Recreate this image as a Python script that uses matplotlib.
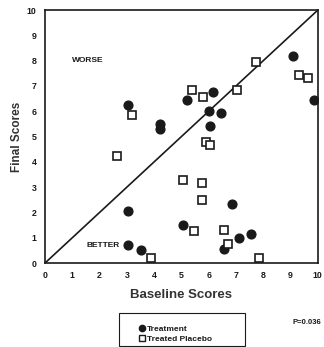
import matplotlib.pyplot as plt
from matplotlib.lines import Line2D
from matplotlib.patches import Rectangle

plt.rcParams['font.family'] = ['Liberation Sans', 'DejaVu Sans']

# treatment group (filled circles)
treat_base = [3.05, 4.2, 4.2, 5.2, 6.15, 6.0, 6.45, 6.05, 9.1, 9.85,
              3.05, 5.05, 3.05, 3.5, 6.85, 7.1, 7.55, 6.55]
treat_final = [6.25, 5.5, 5.3, 6.45, 6.75, 6.0, 5.95, 5.4, 8.2, 6.45,
               2.05, 1.5, 0.7, 0.5, 2.35, 1.0, 1.15, 0.55]

# treated placebo group (open squares)
plac_base = [3.2, 5.4, 5.8, 7.05, 7.75, 5.9, 6.05, 9.3, 9.65, 2.65,
             5.05, 5.75, 5.75, 5.45, 6.55, 6.7, 3.9, 7.85]
plac_final = [5.85, 6.85, 6.55, 6.85, 7.95, 4.8, 4.65, 7.45, 7.3, 4.25,
              3.3, 3.15, 2.5, 1.25, 1.3, 0.75, 0.2, 0.2]

ticks = list(range(0, 11))
ink = '#1a1a1a'

fig = plt.figure(figsize=(3.24, 3.47), dpi=100)
ax = fig.add_axes([0.139, 0.242, 0.842, 0.729])

ax.plot([0, 10], [0, 10], color=ink, lw=1.2, zorder=1)
ax.plot(treat_base, treat_final, 'o', ms=6.3, color=ink, ls='none', zorder=3)
ax.plot(plac_base, plac_final, 's', ms=5.2, mfc='white', mec=ink, mew=1.2,
        ls='none', zorder=3)

ax.set_xlim(0, 10)
ax.set_ylim(0, 10)
ax.set_xticks(ticks)
ax.set_yticks(ticks)
ax.tick_params(length=0, labelsize=6.3, colors=ink, pad=6)
for lab in ax.get_xticklabels() + ax.get_yticklabels():
    lab.set_fontweight('bold')
for s in ax.spines.values():
    s.set_color(ink)
    s.set_linewidth(1.2)

ax.text(1.0, 8.0, 'WORSE', fontsize=6, fontweight='bold', color=ink,
        va='center', ha='left')
ax.text(2.75, 0.7, 'BETTER', fontsize=6, fontweight='bold', color=ink,
        va='center', ha='right')

ax.set_xlabel('Baseline Scores', fontsize=9.5, fontweight='bold',
              color='#333333', labelpad=6)
ax.set_ylabel('Final Scores', fontsize=8.5, fontweight='bold',
              color='#333333', labelpad=3)

# legend box drawn by hand, entries sit in its lower part
fig.patches.append(Rectangle((119 / 324, 1 - 346 / 347), 126 / 324, 33 / 347,
                             transform=fig.transFigure, fill=False,
                             edgecolor=ink, lw=0.8))
handles = [
    Line2D([], [], marker='o', ls='none', color=ink, ms=4.5, label='Treatment'),
    Line2D([], [], marker='s', ls='none', mfc='white', mec=ink, mew=1,
           ms=4, label='Treated Placebo'),
]
leg = fig.legend(handles=handles, loc='upper left',
                 bbox_to_anchor=(138 / 324, 1 - 325 / 347),
                 fontsize=6, frameon=False, borderpad=0,
                 handletextpad=0.1, handlelength=1.0, labelspacing=0.25,
                 borderaxespad=0)
for t in leg.get_texts():
    t.set_fontweight('bold')
    t.set_color(ink)

fig.text(0.993, 0.072, 'P=0.036', fontsize=5.5, fontweight='bold',
         color=ink, ha='right', va='center')

fig.savefig('out.png', dpi=100)
